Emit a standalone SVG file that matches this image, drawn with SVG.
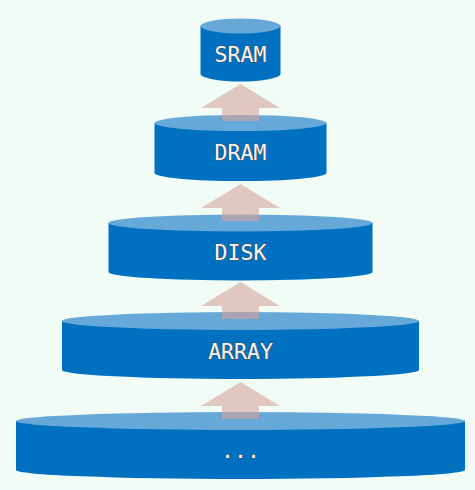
<svg xmlns="http://www.w3.org/2000/svg" width="475" height="490" viewBox="0 0 475 490">
  <style>
    .body { fill: #0070c0; }
    .top { fill: #66a8d8; }
    .arrow { fill: #d6a39a; fill-opacity: 0.6; }
    .label { font-family: "DejaVu Sans Mono", "Liberation Mono", monospace; font-size: 21.5px; fill: #f4f4f4; stroke: #505050; stroke-width: 1.2; paint-order: stroke; text-anchor: middle; }
  </style>
  <rect width="475" height="490" fill="#f1fcf7"/>
  <g id="node-dots">
    <path class="body" d="M16,421 L16,470 A224.5,9 0 0 0 465,470 L465,421 Z"/>
    <ellipse class="top" cx="240.5" cy="421" rx="224.5" ry="9"/>
    <text class="label" x="240.5" y="458">...</text>
  </g>
  <g id="node-array">
    <path class="body" d="M62,321 L62,370 A178.5,9 0 0 0 419,370 L419,321 Z"/>
    <ellipse class="top" cx="240.5" cy="321" rx="178.5" ry="9"/>
    <text class="label" x="240.5" y="359">ARRAY</text>
  </g>
  <g id="node-disk">
    <path class="body" d="M108.5,223 L108.5,272 A132,8.5 0 0 0 372.5,272 L372.5,223 Z"/>
    <ellipse class="top" cx="240.5" cy="223" rx="132" ry="8.5"/>
    <text class="label" x="240.5" y="260">DISK</text>
  </g>
  <g id="node-dram">
    <path class="body" d="M154.5,123 L154.5,173 A86,8 0 0 0 326.5,173 L326.5,123 Z"/>
    <ellipse class="top" cx="240.5" cy="123" rx="86" ry="8"/>
    <text class="label" x="240.5" y="160">DRAM</text>
  </g>
  <g id="node-sram">
    <path class="body" d="M200.5,26 L200.5,74 A40,7.5 0 0 0 280.5,74 L280.5,26 Z"/>
    <ellipse class="top" cx="240.5" cy="26" rx="40" ry="7.5"/>
    <text class="label" x="240.5" y="61.5">SRAM</text>
  </g>
  <g id="connectors">
    <path class="arrow" d="M240.5,84 L280,108 L259,108 L259,121 L222,121 L222,108 L201,108 Z"/>
    <path class="arrow" d="M240.5,184 L280,208 L259,208 L259,221 L222,221 L222,208 L201,208 Z"/>
    <path class="arrow" d="M240.5,282 L280,306 L259,306 L259,319 L222,319 L222,306 L201,306 Z"/>
    <path class="arrow" d="M240.5,382 L280,406 L259,406 L259,419 L222,419 L222,406 L201,406 Z"/>
  </g>
</svg>
